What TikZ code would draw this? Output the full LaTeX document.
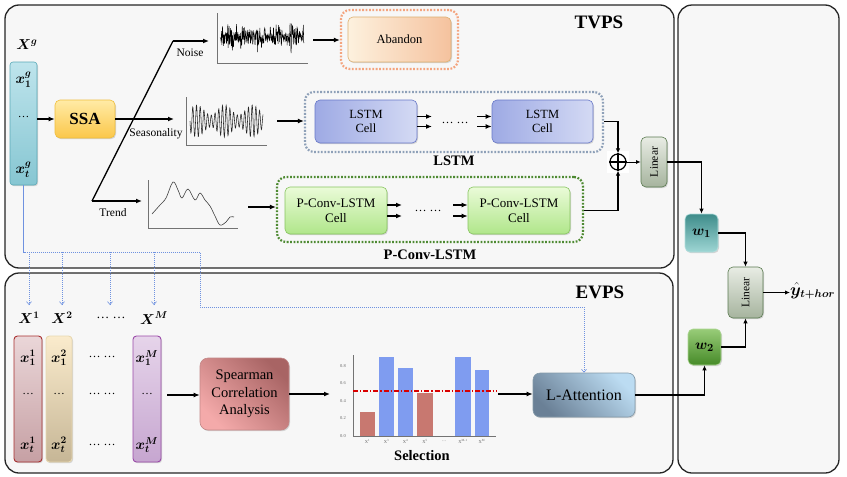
\documentclass[tikz,border=0pt]{standalone}
\usepackage{fontspec}
\setmainfont{Liberation Serif}
\usepackage{amsmath}
\usepackage{bm}
\usetikzlibrary{shadows,arrows.meta}
\definecolor{panelfill}{HTML}{F7F7F7}
\definecolor{tealT}{HTML}{BEE4EC}\definecolor{tealB}{HTML}{86C6D2}\definecolor{tealD}{HTML}{5AAAB8}
\definecolor{ssaT}{HTML}{FFEBA6}\definecolor{ssaB}{HTML}{FBC74A}\definecolor{ssaD}{HTML}{EFBE3C}
\definecolor{abL}{HTML}{FDF1DE}\definecolor{abR}{HTML}{F5C29E}\definecolor{abD}{HTML}{DDB070}\definecolor{abDot}{HTML}{F4A47E}
\definecolor{lsL}{HTML}{9EAAE4}\definecolor{lsR}{HTML}{D4DAF4}\definecolor{lsD}{HTML}{6878C8}\definecolor{lsDot}{HTML}{8EA0B8}
\definecolor{pcT}{HTML}{EAFBD8}\definecolor{pcB}{HTML}{B0E68A}\definecolor{pcD}{HTML}{88C460}\definecolor{pcDot}{HTML}{4E8A32}
\definecolor{linT}{HTML}{E8ECE4}\definecolor{linB}{HTML}{A6B49E}\definecolor{linD}{HTML}{5A7A50}
\definecolor{w1T}{HTML}{3E8C8A}\definecolor{w1B}{HTML}{9ED6D4}
\definecolor{w2T}{HTML}{98CC78}\definecolor{w2B}{HTML}{468A28}
\definecolor{spD}{HTML}{A86464}\definecolor{spL}{HTML}{F4AAAA}
\definecolor{laL}{HTML}{BCDCF2}\definecolor{laD}{HTML}{6A8096}
\definecolor{c1T}{HTML}{EAD6D8}\definecolor{c1B}{HTML}{C6A0A4}\definecolor{c1D}{HTML}{A83030}
\definecolor{c2T}{HTML}{FAEBCC}\definecolor{c2B}{HTML}{C6B696}\definecolor{c2D}{HTML}{E8D8B0}
\definecolor{cmT}{HTML}{E6D4EA}\definecolor{cmB}{HTML}{C6A6D0}\definecolor{cmD}{HTML}{9A4AA8}
\definecolor{dotblue}{HTML}{6F92E0}
\definecolor{barblue}{HTML}{7F9CF0}\definecolor{barred}{HTML}{C87870}
\begin{document}
\begin{tikzpicture}[x=1pt,y=-1pt,
  arr/.style={-{Latex[length=6pt,width=5pt]}, line width=1.3pt},
  ln/.style={line width=1.3pt},
  box/.style={rounded corners=5pt, draw, line width=0.6pt,
    drop shadow={shadow xshift=1pt,shadow yshift=-1.2pt,opacity=0.3},
    align=center, inner sep=0pt},
  grp/.style={rounded corners=9pt, line width=2.2pt, dash pattern=on 1.8pt off 1.6pt, minimum width=#1},
  dlink/.style={draw=dotblue, line width=0.6pt, dash pattern=on 1.2pt off 0.8pt},
  darr/.style={dlink, -{Straight Barb[length=3pt,width=5pt]}},
  panel/.style={draw=black!85, line width=1.3pt, rounded corners=14pt, fill=panelfill},
  lbl/.style={font=\fontsize{11.5}{12}\selectfont, inner sep=0pt},
  bt/.style={font=\bfseries\fontsize{14.5}{15}\selectfont, inner sep=0pt},
  ttl/.style={font=\bfseries\fontsize{19}{20}\selectfont, inner sep=0pt},
  mth/.style={font=\fontsize{14.5}{15}\selectfont, inner sep=0pt},
  tick/.style={font=\fontsize{4.5}{5}\selectfont, text=black!60, inner sep=0pt},
  axis/.style={draw=black!55, line width=0.8pt},
]
\useasboundingbox (0,0) rectangle (847,477);

% panels
\draw[panel] (5,5) rectangle (674,268);
\draw[panel] (5,273) rectangle (673,473);
\draw[panel] (678,5) rectangle (839,473);
\node[ttl] (tvps) at (599,22) {TVPS};
\node[ttl] (evps) at (600,292) {EVPS};

% ---------- TVPS ----------
\node[mth] (Xg) at (27,45) {$\bm{X^g}$};
\node[box, draw=tealD, top color=tealT, bottom color=tealB, rounded corners=3pt,
      minimum width=27pt, minimum height=123pt] (xg) at (23.5,123.5) {};
\node[mth] (xg1) at (23.5,80) {$\bm{x_1^g}$};
\node[lbl] (xgd) at (23.5,117) {…};
\node[mth] (xgt) at (23.5,170) {$\bm{x_t^g}$};

\node[box, draw=ssaD, top color=ssaT, bottom color=ssaB, minimum width=60pt, minimum height=38pt,
      font=\bfseries\fontsize{17}{18}\selectfont] (ssa) at (85,119) {SSA};
\draw[arr] (xg.east |- ssa.west) -- (ssa.west);

\coordinate (br) at (92,201);
\coordinate (nk) at (173,41);
\coordinate (noisein) at (209,41);
\coordinate (seasin) at (174,119);
\coordinate (trendin) at (142,201);
\draw[ln, line join=miter] (br) -- (nk);
\draw[arr] (nk) -- (noisein);
\draw[arr] (ssa.east) -- (seasin);
\draw[arr] (br) -- (trendin);
\node[lbl] (noiselbl) at (190,53) {Noise};
\node[lbl] (seaslbl) at (156,134) {Seasonality};
\node[lbl] (trendlbl) at (113,213) {Trend};

% noise chart
\draw[axis] (217,13) -- (217,63) -- (308,63);
\pgfmathsetseed{12}
\draw[black, line width=0.5pt] plot[samples=260, domain=220:304] (\x,{37+13*rand*abs(rand)+7*rand});

% seasonality chart
\draw[axis] (186,97) -- (186,145) -- (267,145);
\draw[black!85, line width=0.55pt] plot[samples=320, domain=0:73] ({\x+190},{121+(11+5*sin(\x*13))*sin(\x*97)});

% trend chart
\draw[axis] (148,180) -- (148,228) -- (238,228);
\draw[black!75, line width=0.6pt] plot[smooth, tension=0.6] coordinates {(152,214) (160,205) (166,198) (173,182) (178,190) (182,198) (188,189) (195,200) (200,193) (205,200) (210,206) (215,216) (220,225) (226,222) (230,217) (234,217)};

% Abandon
\node[grp=117pt, draw=abDot, minimum height=59pt] (abg) at (399.5,39.5) {};
\node[box, draw=abD, left color=abL, right color=abR, minimum width=103pt, minimum height=45pt,
      font=\fontsize{12.5}{13}\selectfont] (aband) at (399.5,39.5) {Abandon};
\coordinate (noiseout) at (313,40);
\draw[arr] (noiseout) -- (abg.west |- noiseout);

% LSTM
\node[grp=298pt, draw=lsDot, minimum height=60pt] (lg) at (454,122) {};
\node[box, draw=lsD, left color=lsL, right color=lsR, minimum width=102pt, minimum height=43pt,
      font=\fontsize{12.5}{14.5}\selectfont] (ls1) at (366,121.5) {LSTM\\Cell};
\node[box, draw=lsD, left color=lsL, right color=lsR, minimum width=101pt, minimum height=43pt,
      font=\fontsize{12.5}{14.5}\selectfont] (ls2) at (542.5,121.5) {LSTM\\Cell};
\node[lbl, font=\fontsize{12}{12}\selectfont] (lsdots) at (455,123) {… …};
\coordinate (lsa) at (432,116.5);
\coordinate (lsb) at (432,126.5);
\coordinate (lsc) at (477,116.5);
\coordinate (lsd) at (477,126.5);
\draw[arr] (ls1.east |- lsa) -- (lsa);
\draw[arr] (ls1.east |- lsb) -- (lsb);
\draw[arr] (lsc) -- (ls2.west |- lsc);
\draw[arr] (lsd) -- (ls2.west |- lsd);
\coordinate (seasout) at (277,121);
\draw[arr] (seasout) -- (lg.west |- seasout);
\node[bt] (lslbl) at (454,161) {LSTM};

% P-Conv-LSTM
\node[grp=306pt, draw=pcDot, minimum height=65pt] (pg) at (430,209.5) {};
\node[box, draw=pcD, top color=pcT, bottom color=pcB, minimum width=102pt, minimum height=47pt,
      font=\fontsize{13}{15}\selectfont] (pc1) at (336,210.5) {P-Conv-LSTM\\Cell};
\node[box, draw=pcD, top color=pcT, bottom color=pcB, minimum width=102pt, minimum height=47pt,
      font=\fontsize{13}{15}\selectfont] (pc2) at (519,210.5) {P-Conv-LSTM\\Cell};
\node[lbl, font=\fontsize{12}{12}\selectfont] (pcdots) at (428,211) {… …};
\coordinate (pca) at (402,205);
\coordinate (pcb) at (402,216);
\coordinate (pcc) at (453,205);
\coordinate (pcd) at (453,216);
\draw[arr] (pc1.east |- pca) -- (pca);
\draw[arr] (pc1.east |- pcb) -- (pcb);
\draw[arr] (pcc) -- (pc2.west |- pcc);
\draw[arr] (pcd) -- (pc2.west |- pcd);
\coordinate (trendout) at (248,207);
\draw[arr] (trendout) -- (pg.west |- trendout);
\node[bt] (pclbl) at (430,255) {P-Conv-LSTM};

% oplus and Linear 1
\fill[white] (607,151) rectangle (629,173);
\node[circle, draw=black, line width=1.2pt, fill=white, minimum size=16pt, inner sep=0pt] (op) at (618,162) {};
\draw[line width=1.2pt] (op.north) -- (op.south) (op.west) -- (op.east);
\draw[arr, -{Latex[length=5pt,width=4.5pt]}] (lg.east |- ls2) -| (op.north);
\draw[arr, -{Latex[length=5pt,width=4.5pt]}] (pg.east |- pc2) -| (op.south);
\node[box, draw=linD, top color=linT, bottom color=linB, minimum width=26pt, minimum height=50pt] (lin1) at (654,162) {};
\node[rotate=90, font=\fontsize{11.5}{12}\selectfont, inner sep=0pt] (lin1t) at (lin1) {Linear};
\draw[arr, line width=1pt, -{Latex[length=4.5pt,width=4pt]}] (op.east) -- (lin1.west);

% ---------- EVPS ----------
\coordinate (d0) at (23.5,252);
\coordinate (d5) at (200,252);
\coordinate (d6) at (200,307);
\coordinate (d7) at (584,307);
\draw[dlink] (xg.south) -- (d0) -- (d5) -- (d6) -- (d7);
\foreach \xx/\nm in {29/a,62/b,110/c,154/d}{
  \coordinate (dt\nm) at (\xx,252);
  \coordinate (db\nm) at (\xx,305);
  \draw[darr] (dt\nm) -- (db\nm);
}

\node[mth] (X1) at (29,318) {$\bm{X^1}$};
\node[mth] (X2) at (62,318) {$\bm{X^2}$};
\node[lbl, font=\fontsize{13}{13}\selectfont] (Xd) at (111,318) {… …};
\node[mth] (XM) at (154,318) {$\bm{X^M}$};

\node[box, draw=c1D, top color=c1T, bottom color=c1B, rounded corners=3.5pt, line width=0.9pt,
      minimum width=28pt, minimum height=126pt] (c1) at (28,399) {};
\node[box, draw=c2D, top color=c2T, bottom color=c2B, rounded corners=3.5pt, line width=0.9pt,
      minimum width=26pt, minimum height=126pt] (c2) at (59,399) {};
\node[box, draw=cmD, top color=cmT, bottom color=cmB, rounded corners=3.5pt, line width=0.9pt,
      minimum width=28pt, minimum height=126pt] (cm) at (147,399) {};
\node[mth] (c1a) at (28,358) {$\bm{x_1^1}$};
\node[lbl] (c1b) at (28,394) {…};
\node[mth] (c1c) at (28,445) {$\bm{x_t^1}$};
\node[mth] (c2a) at (59,358) {$\bm{x_1^2}$};
\node[lbl] (c2b) at (59,394) {…};
\node[mth] (c2c) at (59,445) {$\bm{x_t^2}$};
\node[mth] (cma) at (147,358) {$\bm{x_1^M}$};
\node[lbl] (cmb) at (147,394) {…};
\node[mth] (cmc) at (147,445) {$\bm{x_t^M}$};
\node[lbl, font=\fontsize{12}{12}\selectfont] (cda) at (102,357) {… …};
\node[lbl, font=\fontsize{12}{12}\selectfont] (cdb) at (102,394) {… …};
\node[lbl, font=\fontsize{12}{12}\selectfont] (cdc) at (102,445) {… …};

\node[box, draw=spL!80!black, top color=spD, bottom color=spL, shading angle=-45, rounded corners=8pt,
      minimum width=89pt, minimum height=72pt, font=\fontsize{14.5}{17.7}\selectfont] (sp) at (244.5,394) {Spearman\\Correlation\\Analysis};
\coordinate (colout) at (167,395);
\draw[arr] (colout) -- (sp.west |- colout);
\coordinate (chartin) at (330,394);
\draw[arr] (sp.east |- chartin) -- (chartin);

% selection chart
\draw[axis, line width=0.6pt] (353,355) -- (353,436) -- (496,436);
\fill[barred] (360,411.5) rectangle (375,436);
\fill[barblue] (379,357) rectangle (394,436);
\fill[barblue] (398,368) rectangle (413,436);
\fill[barred] (417,393) rectangle (433,436);
\fill[barblue] (455,357) rectangle (471,436);
\fill[barblue] (475,369.5) rectangle (489,436);
\draw[red!85!black, line width=1.2pt, dash pattern=on 5pt off 2pt on 1.2pt off 2pt] (353,391) -- (496,391);
\foreach \v/\yy in {0.0/436,0.2/418.5,0.4/401,0.6/383.5,0.8/366}{
  \node[tick] (yt\yy) at (343,\yy) {\v};
}
\node[tick] (xt1) at (367.5,441) {X\textsuperscript{1}};
\node[tick] (xt2) at (386.5,441) {X\textsuperscript{3}};
\node[tick] (xt3) at (405.5,441) {X\textsuperscript{4}};
\node[tick] (xt4) at (425,441) {X\textsuperscript{5}};
\node[tick] (xt5) at (444,441) {…};
\node[tick] (xt6) at (463,441) {X\textsuperscript{M-1}};
\node[tick] (xt7) at (482,441) {X\textsuperscript{M}};
\node[bt] (sel) at (422,456) {Selection};

\node[box, draw=laL!70!black, top color=laL, bottom color=laD, shading angle=-45, rounded corners=7pt,
      minimum width=102pt, minimum height=44pt, font=\fontsize{16}{17}\selectfont] (la) at (584,395) {L-Attention};
\coordinate (chartout) at (498,394);
\draw[arr] (chartout) -- (la.west |- chartout);
\draw[darr] (d7) -- (la.north);

% ---------- right panel ----------
\node[box, draw=w1B!80!white, top color=w1T, bottom color=w1B, rounded corners=5pt,
      minimum width=33pt, minimum height=38pt, font=\fontsize{15}{16}\selectfont] (w1) at (701.5,233) {$\bm{w_1}$};
\node[box, draw=w2T!80!white, top color=w2T, bottom color=w2B, rounded corners=5pt,
      minimum width=33pt, minimum height=36pt, font=\fontsize{15}{16}\selectfont] (w2) at (704.5,347) {$\bm{w_2}$};
\node[box, draw=linD, top color=linT, bottom color=linB, minimum width=35pt, minimum height=51pt] (lin2) at (745.5,292.5) {};
\node[rotate=90, font=\fontsize{11.5}{12}\selectfont, inner sep=0pt] (lin2t) at (lin2) {Linear};
\node[font=\fontsize{16}{17}\selectfont, anchor=west, inner sep=0pt] (yhat) at (790,291) {$\hat{\bm{y}}_{\bm{t+hor}}$};

\tikzset{rarr/.style={-{Latex[length=5pt,width=4.5pt]}, line width=1.2pt}}
\draw[rarr] (lin1.east) -| (w1.north);
\draw[rarr] (w1.east) -| (lin2.north);
\draw[rarr] (w2.east) -| (lin2.south);
\draw[rarr] (la.east) -| (w2.south);
\draw[rarr] (lin2.east) -- (lin2.east -| yhat.west);
\end{tikzpicture}
\end{document}
